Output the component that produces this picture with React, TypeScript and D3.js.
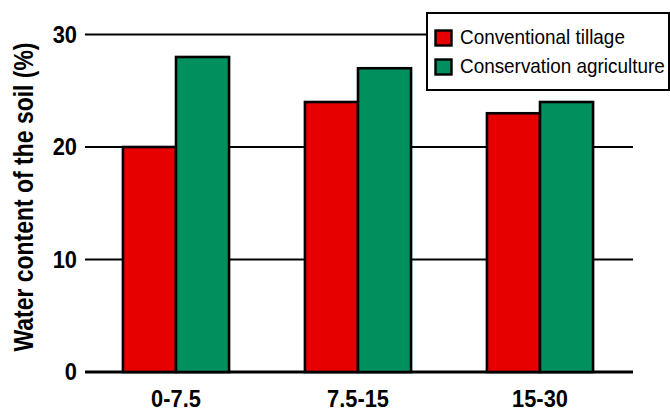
import React from "react";
import * as d3 from "d3";

// Soil depth classes (cm) and water content per management system
const depths = ["0-7.5", "7.5-15", "15-30"];
const seriesNames = ["Conventional tillage", "Conservation agriculture"];
const conventional = [20, 24, 23];
const conservation = [28, 27, 24];
const yTicks = [0, 10, 20, 30];
const seriesColors = ["#e60000", "#00905e"];

const W = 670;
const H = 412;

export default function App() {
  const values = [conventional, conservation];

  const x = d3
    .scaleBand<string>()
    .domain(depths)
    .range([85, 631])
    .paddingInner(0.417)
    .paddingOuter(0.2085);

  const xInner = d3
    .scaleBand<string>()
    .domain(seriesNames)
    .range([0, x.bandwidth()])
    .padding(0);

  const y = d3.scaleLinear().domain([0, 30]).range([372, 34.5]);

  const font = "'Liberation Sans', Arial, sans-serif";

  return (
    <svg
      width={W}
      height={H}
      viewBox={`0 0 ${W} ${H}`}
      style={{ position: "absolute", left: 0, top: 0, background: "#fff" }}
    >
      <rect x={0} y={0} width={W} height={H} fill="#fff" />

      {/* horizontal grid lines */}
      {yTicks.map((t) => (
        <line
          key={`g${t}`}
          x1={85}
          x2={633}
          y1={y(t)}
          y2={y(t)}
          stroke="#000"
          strokeWidth={t === 0 ? 2.8 : 2.2}
        />
      ))}

      {/* y tick labels */}
      {yTicks.map((t) => (
        <text
          key={`yt${t}`}
          transform={`translate(77, ${y(t) + 8.3}) scale(0.95, 1)`}
          textAnchor="end"
          fontFamily={font}
          fontWeight="bold"
          fontSize={23}
          fill="#000"
        >
          {t}
        </text>
      ))}

      {/* bars */}
      {depths.map((d, i) =>
        seriesNames.map((s, j) => {
          const v = values[j][i];
          const bx = (x(d) ?? 0) + (xInner(s) ?? 0);
          return (
            <rect
              key={`${d}-${s}`}
              x={bx}
              y={y(v)}
              width={xInner.bandwidth()}
              height={y(0) - y(v)}
              fill={seriesColors[j]}
              stroke="#000"
              strokeWidth={2.6}
            />
          );
        })
      )}

      {/* x tick labels */}
      {depths.map((d) => (
        <text
          key={`xt${d}`}
          transform={`translate(${(x(d) ?? 0) + x.bandwidth() / 2}, 407) scale(0.95, 1)`}
          textAnchor="middle"
          fontFamily={font}
          fontWeight="bold"
          fontSize={23}
          fill="#000"
        >
          {d}
        </text>
      ))}

      {/* y axis title */}
      <text
        transform="translate(33, 197) rotate(-90) scale(0.82, 1)"
        textAnchor="middle"
        fontFamily={font}
        fontWeight="bold"
        fontSize={28}
        fill="#000"
      >
        Water content of the soil (%)
      </text>

      {/* legend */}
      <rect x={427} y={13} width={242} height={77} fill="#fff" stroke="#000" strokeWidth={2} />
      {seriesNames.map((s, j) => (
        <g key={`lg${s}`}>
          <rect
            x={435.5}
            y={30.5 + j * 29}
            width={16}
            height={15}
            fill={seriesColors[j]}
            stroke="#000"
            strokeWidth={2.4}
          />
          <text
            transform={`translate(460, ${43.5 + j * 29}) scale(0.9, 1)`}
            fontFamily={font}
            fontSize={21}
            fill="#000"
          >
            {s}
          </text>
        </g>
      ))}
    </svg>
  );
}
